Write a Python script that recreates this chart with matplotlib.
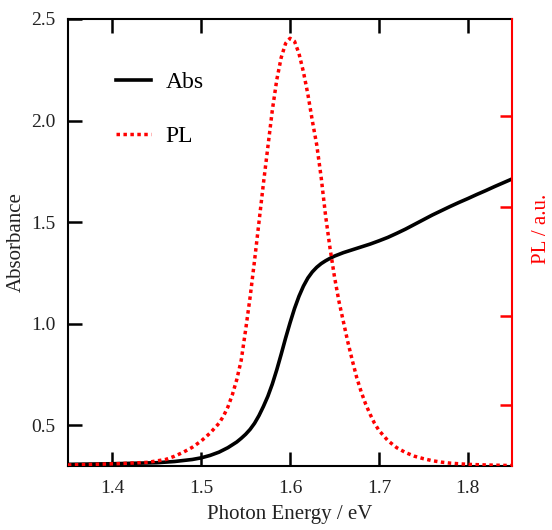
import matplotlib.pyplot as plt

plt.rcParams['font.family'] = ['Liberation Serif', 'DejaVu Serif']

# absorbance spectrum
abs_e = [1.35, 1.40, 1.45, 1.47, 1.49, 1.50, 1.51, 1.52, 1.53, 1.54, 1.545, 1.55, 1.555,
         1.56, 1.565, 1.57, 1.575, 1.58, 1.585, 1.59, 1.595, 1.60, 1.605, 1.61,
         1.615, 1.62, 1.625, 1.63, 1.635, 1.64, 1.645, 1.65, 1.66, 1.67, 1.68,
         1.69, 1.70, 1.71, 1.72, 1.73, 1.74, 1.75, 1.76, 1.77, 1.78, 1.79, 1.80,
         1.81, 1.82, 1.83, 1.84, 1.85]
abs_y = [0.308, 0.311, 0.316, 0.322, 0.332, 0.340, 0.352, 0.368, 0.39, 0.418, 0.436, 0.456, 0.48,
         0.51, 0.548, 0.593, 0.643, 0.703, 0.773, 0.85, 0.93, 1.005, 1.075, 1.135,
         1.185, 1.225, 1.255, 1.278, 1.296, 1.31, 1.322, 1.333, 1.35, 1.364, 1.378,
         1.392, 1.408, 1.425, 1.445, 1.466, 1.489, 1.512, 1.535, 1.556, 1.577, 1.597, 1.616,
         1.636, 1.655, 1.675, 1.694, 1.713]

# PL spectrum, drawn on the absorbance scale
pl_e = [1.35, 1.38, 1.41, 1.44, 1.46, 1.47, 1.48, 1.49, 1.50, 1.51, 1.52, 1.525,
        1.53, 1.535, 1.54, 1.545, 1.55, 1.555, 1.56, 1.565, 1.57, 1.575, 1.58,
        1.585, 1.59, 1.595, 1.60, 1.605, 1.61, 1.615, 1.62, 1.625, 1.63, 1.635,
        1.64, 1.645, 1.65, 1.655, 1.66, 1.665, 1.67, 1.675, 1.68, 1.685, 1.69,
        1.695, 1.70, 1.71, 1.72, 1.73, 1.74, 1.75, 1.76, 1.77, 1.78, 1.79, 1.80,
        1.82, 1.85]
pl_y = [0.305, 0.308, 0.312, 0.318, 0.332, 0.348, 0.368, 0.392, 0.423, 0.462, 0.51, 0.545,
        0.59, 0.65, 0.725, 0.82, 0.97, 1.13, 1.31, 1.50, 1.69, 1.87, 2.05,
        2.20, 2.31, 2.38, 2.405, 2.39, 2.33, 2.24, 2.13, 2.00, 1.88, 1.72,
        1.53, 1.37, 1.23, 1.11, 1.01, 0.91, 0.82, 0.735, 0.665, 0.605, 0.555,
        0.51, 0.475, 0.425, 0.39, 0.366, 0.348, 0.336, 0.326, 0.319, 0.314, 0.311, 0.308,
        0.305, 0.302]

x_ticks = [1.4, 1.5, 1.6, 1.7, 1.8]
y_ticks = [0.5, 1.0, 1.5, 2.0, 2.5]
pl_ticks = [0.136, 0.335, 0.580, 0.782]

fig = plt.figure(figsize=(5.52, 5.30), dpi=100)
ax = fig.add_axes([0.123, 0.1208, 0.805, 0.8434])

ax.plot(abs_e, abs_y, color='black', lw=2.6, label='Abs', zorder=3)
ax.plot(pl_e, pl_y, color='red', lw=2.5, linestyle=(0, (1, 1)), label='PL', zorder=4)

ax.set_xlim(1.35, 1.85)
ax.set_ylim(0.3, 2.5)
ax.set_xticks(x_ticks)
ax.set_yticks(y_ticks)
ax.set_xticklabels([f'{t:.1f}' for t in x_ticks])
ax.set_yticklabels([f'{t:.1f}' for t in y_ticks])
ax.tick_params(direction='in', length=10, width=1.8, labelsize=14, colors='black',
               labelcolor='#222222', top=True, right=False)
ax.tick_params(axis='x', pad=10)
ax.tick_params(axis='y', pad=9)
for s in ['left', 'top', 'bottom']:
    ax.spines[s].set_linewidth(1.5)
ax.spines['right'].set_visible(False)

ax.set_xlabel('Photon Energy / eV', fontsize=15, color='#222222', labelpad=6)
ax.set_ylabel('Absorbance', fontsize=15, color='#222222')
ax.yaxis.set_label_coords(-0.094, 0.5)

ax2 = ax.twinx()
ax2.set_ylim(0, 1)
ax2.set_yticks(pl_ticks)
ax2.set_yticklabels([])
ax2.tick_params(direction='in', length=9, width=1.8, colors='red')
for s in ['left', 'top', 'bottom']:
    ax2.spines[s].set_visible(False)
ax2.spines['right'].set_color('red')
ax2.spines['right'].set_linewidth(1.5)
ax2.set_ylabel('PL / a.u.', fontsize=15, color='red')
ax2.yaxis.set_label_coords(1.045, 0.53)

ax.legend(loc='upper left', bbox_to_anchor=(0.108, 0.883), frameon=False,
          handlelength=1.5, handletextpad=0.6, labelspacing=1.4, fontsize=17,
          borderaxespad=0, borderpad=0)

fig.savefig('out.png', dpi=100)
